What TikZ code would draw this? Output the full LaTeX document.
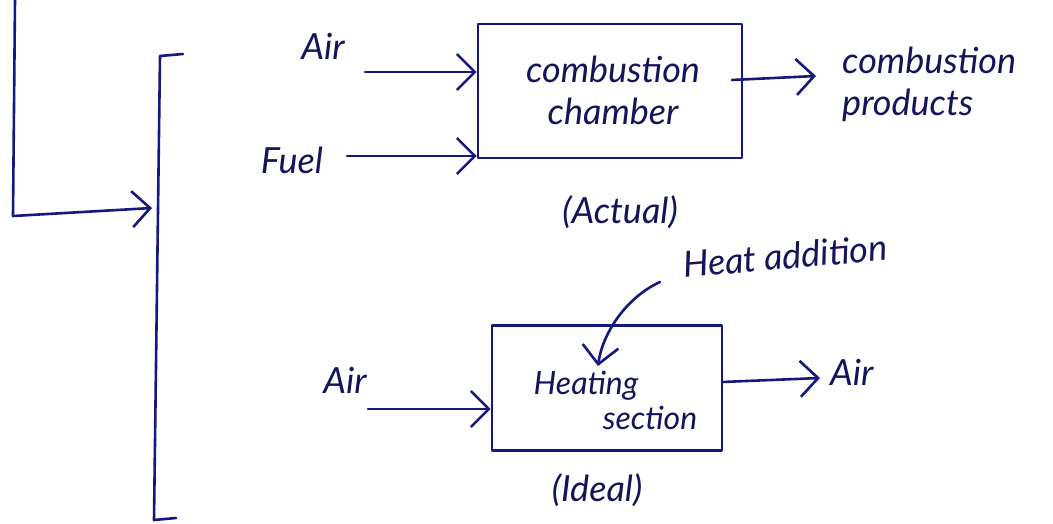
\documentclass[tikz,border=0pt]{standalone}
\usepackage{fontspec}
\setmainfont{Lato}
\usetikzlibrary{arrows.meta,calc}
\definecolor{ink}{RGB}{22,24,128}
\definecolor{txt}{RGB}{20,20,90}
\tikzset{
  ink/.style={draw=ink, line width=2.6pt, line cap=round, line join=round},
  arr/.style={ink, -{Straight Barb[length=18pt,width=36pt,line width=2.6pt]}},
  lbl/.style={text=txt, font=\fontsize{36}{42}\selectfont\itshape, inner sep=0pt},
  lbls/.style={text=txt, font=\fontsize{32}{40}\selectfont\itshape, inner sep=0pt},
  boxx/.style={ink, rectangle, inner sep=0pt},
}
\begin{document}
\begin{tikzpicture}[x=1pt,y=-1pt]
\useasboundingbox[fill=white] (0,0) rectangle (1053,524);

% feed line and bracket
\coordinate (top) at (15,0);
\coordinate (corner) at (13,216);
\coordinate (brmid) at (152,208);
\draw[ink] (top) -- (corner);
\draw[arr] (corner) -- (brmid);
\coordinate (bt1) at (183,54);
\coordinate (bt2) at (160,56);
\coordinate (bb1) at (154,520);
\coordinate (bb2) at (176,518);
\draw[ink] (bt1) -- (bt2) -- (bb1) -- (bb2);

% actual: combustion chamber
\node[boxx, minimum width=264pt, minimum height=134pt] (cc) at (610,91) {};
\node[lbl, align=center] (cctext) at (613,90) {combustion\\chamber};
\node[lbl] (air1) at (323,46) {Air};
\node[lbl] (fuel) at (292,160) {Fuel};
\coordinate (air1s) at (365,72);
\coordinate (fuels) at (347,156);
\draw[arr] (air1s) -- (air1s -| cc.west);
\draw[arr] (fuels) -- (fuels -| cc.west);
\coordinate (cpo) at (732,80);
\coordinate (cpe) at (816,76);
\draw[arr] (cpo) -- (cpe);
\node[lbl, align=left, anchor=west] (prod) at (842,84) {combustion\\products};
\node[lbl] (actual) at (620,212) {(Actual)};

% ideal: heating section
\node[boxx, minimum width=230pt, minimum height=125pt] (hs) at (607,388) {};
\node[lbls] (heating) at (586,386) {Heating};
\node[lbls] (section) at (650,418) {section};
\node[lbl, rotate=5] (heat) at (785,256) {Heat addition};
\coordinate (hs1) at (660,282);
\coordinate (hs2) at (598,366);
\draw[arr] (hs1) .. controls (625,298) and (602,335) .. (hs2);
\node[lbl] (air2) at (345,380) {Air};
\coordinate (air2s) at (368,409);
\draw[arr] (air2s) -- (air2s -| hs.west);
\coordinate (air3s) at (722,382);
\coordinate (air3e) at (820,378);
\draw[arr] (air3s) -- (air3e);
\node[lbl, anchor=west] (air3) at (830,372) {Air};
\node[lbl] (ideal) at (597,490) {(Ideal)};
\end{tikzpicture}
\end{document}
